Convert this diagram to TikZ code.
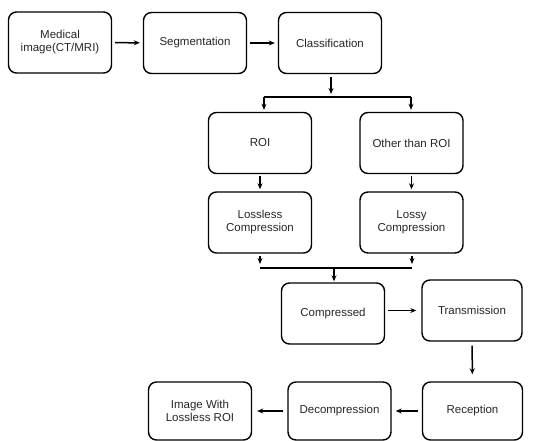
\documentclass[tikz,border=0pt]{standalone}
\usepackage{fontspec}
\setmainfont{Liberation Sans}
\usetikzlibrary{arrows.meta}
\tikzset{
  blk/.style={draw, line width=1.4pt, rounded corners=8pt, minimum width=103pt,
    minimum height=61pt, align=center, text=black!85, font=\fontsize{11.5}{13}\selectfont},
  arr/.style={line width=1.5pt, -{Stealth[length=6pt,width=5pt]}},
  ln/.style={line width=1.5pt}
}
\begin{document}
\begin{tikzpicture}[x=1pt,y=-1pt]
\useasboundingbox (0,0) rectangle (547,441);

\node[blk] (med) at (60,42.5) {Medical\\image(CT/MRI)};
\node[blk] (seg) at (195,43) {Segmentation};
\node[blk] (cls) at (330,43) {Classification};
\node[blk] (roi) at (260,143) {ROI};
\node[blk] (oth) at (411.5,143) {Other than ROI};
\node[blk] (lls) at (260,222.5) {Lossless\\Compression};
\node[blk] (lsy) at (411.5,222.5) {Lossy\\Compression};
\node[blk] (cmp) at (333,313.5) {Compressed};
\node[blk, minimum width=100pt] (trn) at (472,310.5) {Transmission};
\node[blk, minimum width=100pt, minimum height=58pt] (rcp) at (472.5,411) {Reception};
\node[blk, minimum height=58pt] (dec) at (339.5,411) {Decompression};
\node[blk, minimum height=58pt] (out) at (200,411) {Image With\\Lossless ROI};

% top row
\draw[arr, shorten <=3pt, shorten >=3pt] (med) -- (seg);
\draw[arr, shorten <=3pt, shorten >=3pt] (seg) -- (cls);

% split
\coordinate (s0) at (331,97);
\coordinate (s1) at (264,97);
\coordinate (s2) at (411,97);
\draw[arr, shorten <=3pt, shorten >=3pt] (cls.south -| s0) -- (s0);
\draw[ln] (s1) -- (s2);
\draw[arr, shorten >=2pt] (s1) -- (s1 |- roi.north);
\draw[arr, shorten >=2pt] (s2) -- (s2 |- oth.north);
\draw[arr, shorten <=2pt, shorten >=2pt] (roi) -- (lls);
\draw[arr, shorten <=2pt, shorten >=2pt] (oth) -- (lsy);

% merge
\coordinate (m1) at (260,268);
\coordinate (m2) at (412,268);
\coordinate (m0) at (334,268);
\draw[arr, shorten <=2pt, shorten >=4pt] (lls.south -| m1) -- (m1);
\draw[arr, shorten <=2pt, shorten >=4pt] (lsy.south -| m2) -- (m2);
\draw[ln] (m1) -- (m2);
\draw[arr, shorten >=1pt] (m0) -- (m0 |- cmp.north);

% bottom
\draw[arr, shorten <=3pt, shorten >=5pt] (cmp.east |- trn) -- (trn.west);
\draw[arr, shorten <=4pt, shorten >=7pt] (trn) -- (rcp);
\draw[arr, shorten <=4pt, shorten >=4pt] (rcp) -- (dec);
\draw[arr, shorten <=4pt, shorten >=5pt] (dec) -- (out);
\end{tikzpicture}
\end{document}
